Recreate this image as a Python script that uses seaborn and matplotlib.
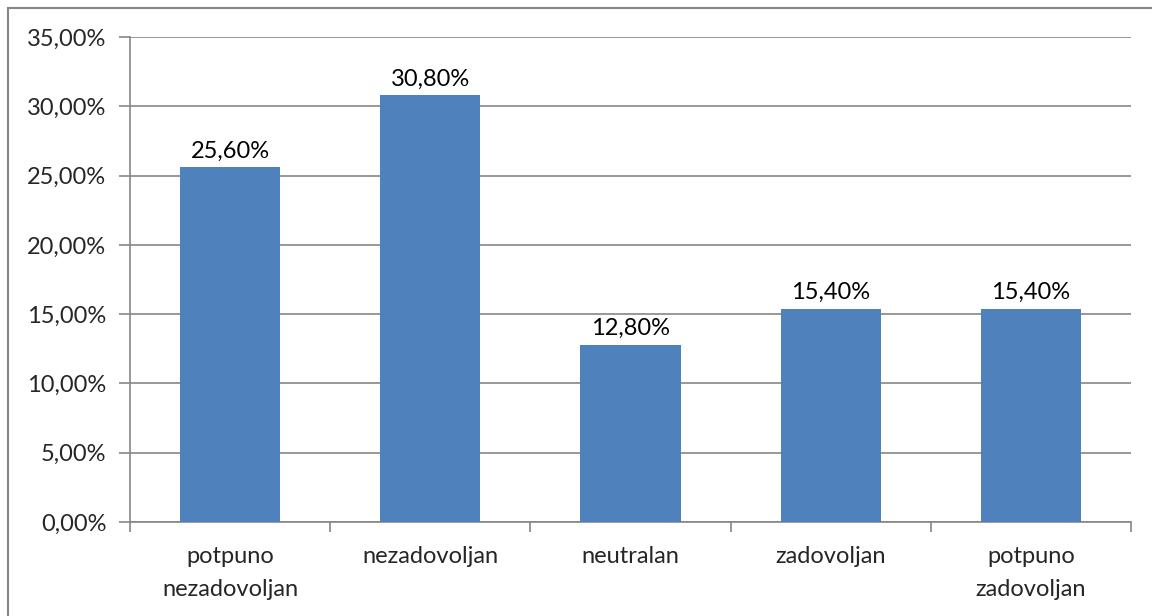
import pandas as pd
import seaborn as sns
import matplotlib.pyplot as plt
from matplotlib.ticker import FuncFormatter, MultipleLocator, FixedLocator
from matplotlib.patches import Rectangle

# data
kategorije = ["potpuno\nnezadovoljan", "nezadovoljan", "neutralan", "zadovoljan", "potpuno\nzadovoljan"]
postotci = [25.6, 30.8, 12.8, 15.4, 15.4]

df = pd.DataFrame({"kat": kategorije, "pct": postotci})

sns.set_style("white")
plt.rcParams["font.family"] = ["Lato", "DejaVu Sans"]

fig = plt.figure(figsize=(11.52, 6.16), dpi=100)
ax = fig.add_axes([130 / 1152, 1 - 522 / 616, 1001 / 1152, 485 / 616])

sns.barplot(data=df, x="kat", y="pct", color="#4F81BD", width=0.5, saturation=1,
            linewidth=0, edgecolor="none", ax=ax, zorder=3)

ax.set_ylim(0, 35)
ax.set_xlim(-0.5, 4.5)
ax.yaxis.set_major_locator(MultipleLocator(5))
ax.yaxis.set_major_formatter(FuncFormatter(lambda v, p: f"{v:.2f}".replace(".", ",") + "%"))
ax.grid(axis="y", color="#868686", linewidth=1.2, zorder=0)
ax.set_axisbelow(True)

for i, v in enumerate(postotci):
    ax.text(i, v + 0.4, f"{v:.2f}".replace(".", ",") + "%", ha="center", va="bottom", fontsize=17, color="black")

ax.set_xlabel("")
ax.set_ylabel("")
for s in ["top", "right"]:
    ax.spines[s].set_visible(False)
for s in ["left", "bottom"]:
    ax.spines[s].set_color("#868686")
    ax.spines[s].set_linewidth(1.2)

# category boundary ticks like Excel
ax.xaxis.set_major_locator(FixedLocator(range(5)))
ax.xaxis.set_minor_locator(FixedLocator([-0.5, 0.5, 1.5, 2.5, 3.5, 4.5]))
ax.tick_params(axis="x", which="major", length=0, pad=17, labelsize=17)
ax.tick_params(axis="x", which="minor", length=7, width=1.2, color="#868686", direction="out", bottom=True)
ax.tick_params(axis="y", length=8, width=1.2, color="#868686", direction="out", left=True, labelsize=17, pad=9)
ax.set_xticklabels(kategorije, linespacing=1.75)

# figure border (only top and left visible, rest cropped)
fig.patches.append(Rectangle((8 / 1152, -0.1), 1.2, 1 - 8 / 616 + 0.1, transform=fig.transFigure,
                             fill=False, edgecolor="#868686", linewidth=1.5))

plt.savefig("out.png", dpi=100)
